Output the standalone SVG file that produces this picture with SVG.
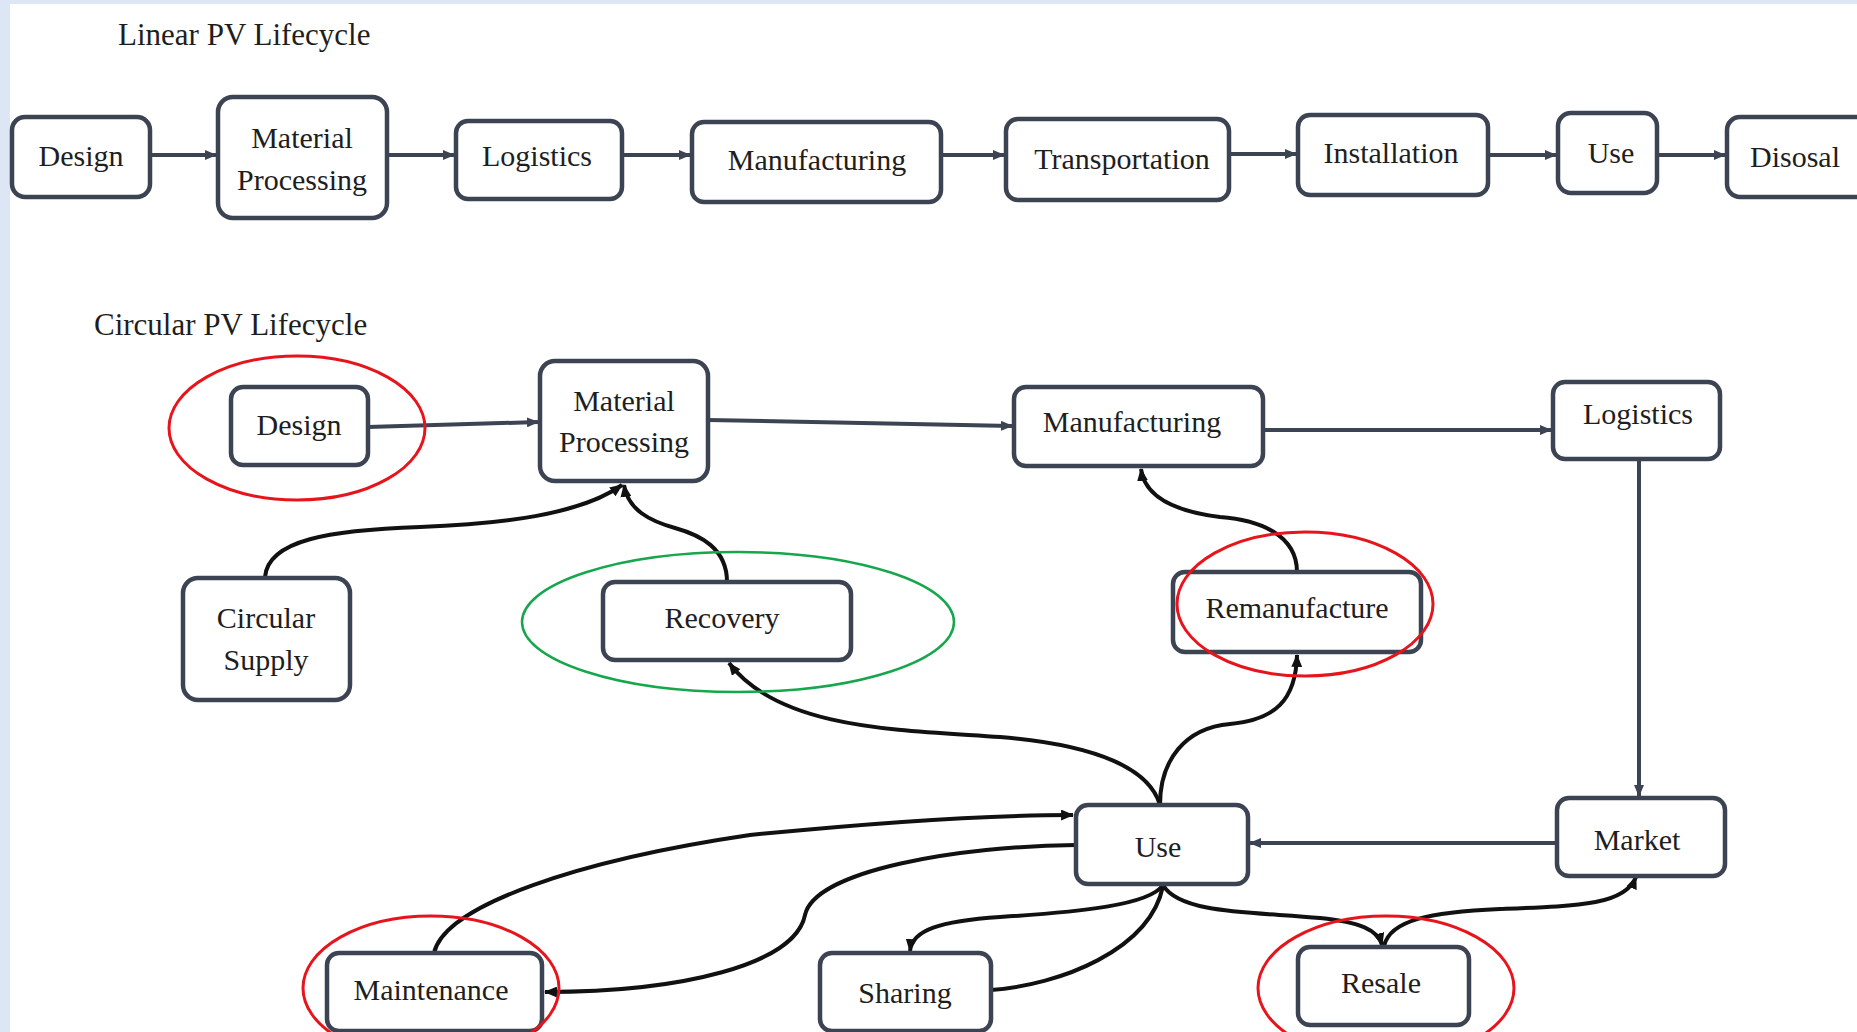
<svg xmlns="http://www.w3.org/2000/svg" width="1857" height="1032" viewBox="0 0 1857 1032">
<style>
.box{fill:#fff;stroke:#3c4352;stroke-width:4.5}
.t{font-family:"Liberation Serif","Times New Roman",serif;font-size:30px;fill:#1e1e1e;text-anchor:middle}
.title{font-family:"Liberation Serif","Times New Roman",serif;font-size:31px;fill:#1e1e1e}
.sl{fill:none;stroke:#3c4352;stroke-width:4}
.cv{fill:none;stroke:#111;stroke-width:4}
.red{fill:none;stroke:#e8141c;stroke-width:3}
.green{fill:none;stroke:#16a64c;stroke-width:2.5}
</style>
<defs>
<marker id="ah" viewBox="0 0 12 10" refX="11" refY="5" markerWidth="12" markerHeight="10" markerUnits="userSpaceOnUse" orient="auto">
<path d="M0,0 L12,5 L0,10 Z" fill="#3c4352"/>
</marker>
<marker id="ahk" viewBox="0 0 12 10" refX="11" refY="5" markerWidth="13" markerHeight="11" markerUnits="userSpaceOnUse" orient="auto">
<path d="M0,0 L12,5 L0,10 Z" fill="#111"/>
</marker>
</defs>
<rect x="0" y="0" width="1857" height="1032" fill="#fff"/>
<rect x="0" y="0" width="1857" height="4" fill="#dce6f5"/>
<rect x="0" y="0" width="10" height="1032" fill="#dce6f5"/>

<text class="title" x="118" y="45">Linear PV Lifecycle</text>
<text class="title" x="94" y="335">Circular PV Lifecycle</text>

<g id="connectors">
<line class="sl" x1="150" y1="155" x2="216" y2="155" marker-end="url(#ah)"/>
<line class="sl" x1="387" y1="155" x2="454" y2="155" marker-end="url(#ah)"/>
<line class="sl" x1="622" y1="155" x2="690" y2="155" marker-end="url(#ah)"/>
<line class="sl" x1="941" y1="155" x2="1004" y2="155" marker-end="url(#ah)"/>
<line class="sl" x1="1229" y1="154" x2="1296" y2="154" marker-end="url(#ah)"/>
<line class="sl" x1="1488" y1="155" x2="1556" y2="155" marker-end="url(#ah)"/>
<line class="sl" x1="1657" y1="155" x2="1725" y2="155" marker-end="url(#ah)"/>

<line class="sl" x1="368" y1="427" x2="538" y2="422" marker-end="url(#ah)"/>
<line class="sl" x1="708" y1="420" x2="1012" y2="426" marker-end="url(#ah)"/>
<line class="sl" x1="1263" y1="430" x2="1551" y2="430" marker-end="url(#ah)"/>
<line class="sl" x1="1639" y1="459" x2="1639" y2="796" stroke-width="2.5" marker-end="url(#ah)"/>
<line class="sl" x1="1557" y1="843" x2="1250" y2="843" stroke-width="3.5" marker-end="url(#ah)"/>

<path class="cv" d="M265,577 C268,540 330,530 420,527 C500,524 580,515 622,485" marker-end="url(#ahk)"/>
<path class="cv" d="M727,582 C727,548 700,535 675,528 C650,521 628,510 624,485" marker-end="url(#ahk)"/>
<path class="cv" d="M1160,805 C1150,770 1100,745 1000,737 C900,730 780,730 729,663" marker-end="url(#ahk)"/>
<path class="cv" d="M1160,805 C1160,760 1185,728 1230,724 C1275,720 1296,700 1297,655" marker-end="url(#ahk)"/>
<path class="cv" d="M1297,572 C1297,535 1260,520 1220,517 C1180,512 1145,500 1141,469" marker-end="url(#ahk)"/>
<path class="cv" d="M434,953 C445,905 580,860 750,835 C880,822 980,815 1073,815" marker-end="url(#ahk)"/>
<path class="cv" d="M1076,845 C960,846 815,870 805,915 C795,965 680,992 545,992" marker-end="url(#ahk)"/>
<path class="cv" d="M1163,885 C1150,905 1080,912 1000,917 C940,921 912,930 910,951" marker-end="url(#ahk)"/>
<path class="cv" d="M991,990 C1060,985 1150,950 1163,886"/>
<path class="cv" d="M1163,885 C1180,915 1260,912 1320,918 C1360,922 1378,930 1382,945" marker-end="url(#ahk)"/>
<path class="cv" d="M1384,946 C1390,920 1430,912 1500,909 C1580,906 1625,905 1636,877" marker-end="url(#ahk)"/>
</g>

<g id="lin-design"><rect class="box" x="12" y="117" width="138" height="80" rx="13"/><text class="t" x="81" y="166">Design</text></g>
<g id="lin-material"><rect class="box" x="218" y="97" width="169" height="121" rx="15"/><text class="t" x="302" y="148">Material</text><text class="t" x="302" y="190">Processing</text></g>
<g id="lin-logistics"><rect class="box" x="456" y="121" width="166" height="78" rx="12"/><text class="t" x="537" y="166">Logistics</text></g>
<g id="lin-manufacturing"><rect class="box" x="692" y="122" width="249" height="80" rx="12"/><text class="t" x="817" y="170">Manufacturing</text></g>
<g id="lin-transportation"><rect class="box" x="1006" y="119" width="223" height="81" rx="12"/><text class="t" x="1122" y="169">Transportation</text></g>
<g id="lin-installation"><rect class="box" x="1298" y="115" width="190" height="80" rx="12"/><text class="t" x="1391" y="163">Installation</text></g>
<g id="lin-use"><rect class="box" x="1558" y="113" width="99" height="80" rx="13"/><text class="t" x="1611" y="163">Use</text></g>
<g id="lin-disposal"><rect class="box" x="1727" y="117" width="150" height="80" rx="13"/><text class="t" x="1795" y="167">Disosal</text></g>

<g id="c-design"><rect class="box" x="231" y="387" width="137" height="78" rx="12"/><text class="t" x="299" y="435">Design</text></g>
<g id="c-material"><rect class="box" x="540" y="361" width="168" height="120" rx="15"/><text class="t" x="624" y="411">Material</text><text class="t" x="624" y="452">Processing</text></g>
<g id="c-manufacturing"><rect class="box" x="1014" y="387" width="249" height="79" rx="12"/><text class="t" x="1132" y="432">Manufacturing</text></g>
<g id="c-logistics"><rect class="box" x="1553" y="382" width="167" height="77" rx="12"/><text class="t" x="1638" y="424">Logistics</text></g>
<g id="c-supply"><rect class="box" x="183" y="578" width="167" height="122" rx="15"/><text class="t" x="266" y="628">Circular</text><text class="t" x="266" y="670">Supply</text></g>
<g id="c-recovery"><rect class="box" x="603" y="582" width="248" height="78" rx="12"/><text class="t" x="722" y="628">Recovery</text></g>
<g id="c-remanufacture"><rect class="box" x="1173" y="572" width="248" height="80" rx="12"/><text class="t" x="1297" y="618">Remanufacture</text></g>
<g id="c-use"><rect class="box" x="1076" y="805" width="172" height="79" rx="12"/><text class="t" x="1158" y="857">Use</text></g>
<g id="c-market"><rect class="box" x="1557" y="798" width="168" height="78" rx="12"/><text class="t" x="1637" y="850">Market</text></g>
<g id="c-maintenance"><rect class="box" x="327" y="953" width="215" height="78" rx="12"/><text class="t" x="431" y="1000">Maintenance</text></g>
<g id="c-sharing"><rect class="box" x="820" y="953" width="171" height="78" rx="12"/><text class="t" x="905" y="1003">Sharing</text></g>
<g id="c-resale"><rect class="box" x="1298" y="947" width="171" height="78" rx="12"/><text class="t" x="1381" y="993">Resale</text></g>

<g id="highlights">
<ellipse class="red" cx="297" cy="428" rx="128" ry="72"/>
<ellipse class="red" cx="1305" cy="604" rx="128" ry="72"/>
<ellipse class="red" cx="431" cy="988" rx="128" ry="72"/>
<ellipse class="red" cx="1386" cy="988" rx="128" ry="72"/>
<ellipse class="green" cx="738" cy="622" rx="216" ry="70"/>
</g>
</svg>
